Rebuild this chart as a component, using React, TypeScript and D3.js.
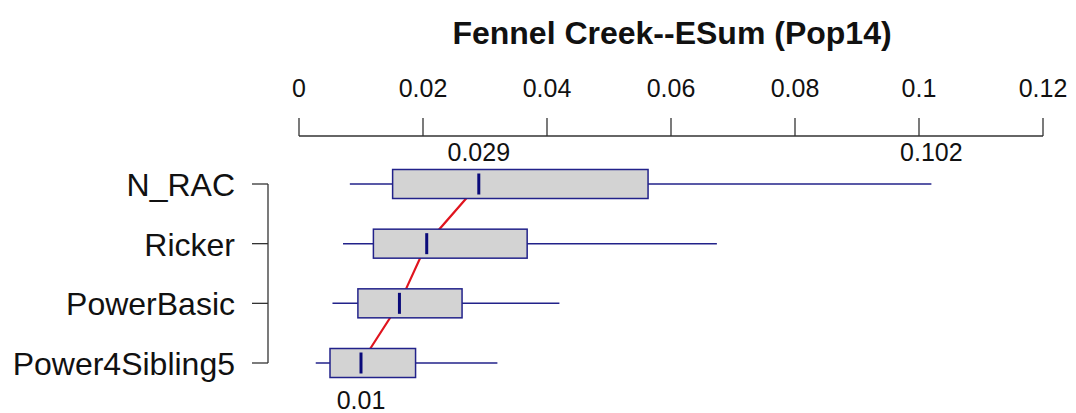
import React from "react";
import * as d3 from "d3";

const title = "Fennel Creek--ESum (Pop14)";
const categories = ["N_RAC", "Ricker", "PowerBasic", "Power4Sibling5"];
const whiskerLow = [0.0082, 0.0071, 0.0054, 0.0027];
const q1 = [0.0151, 0.012, 0.0095, 0.005];
const median = [0.029, 0.0206, 0.0162, 0.01];
const q3 = [0.0563, 0.0368, 0.0263, 0.0188];
const whiskerHigh = [0.102, 0.0674, 0.042, 0.032];
const tickValues = [0, 0.02, 0.04, 0.06, 0.08, 0.1, 0.12];
const tickLabels = ["0", "0.02", "0.04", "0.06", "0.08", "0.1", "0.12"];

const W = 1076;
const H = 413;

export default function App() {
  const x = d3.scaleLinear().domain([0, 0.12]).range([299, 1043]);
  const y = d3.scalePoint<string>().domain(categories).range([184, 363]);
  const boxH = 29;
  const medH = 21;
  const axisY = 136;
  const font = "'Liberation Sans', Arial, sans-serif";
  const navy = "#22228a";
  const medColor = "#0a0a7a";

  const medLine = d3
    .line<number>()
    .x((_, i) => x(median[i]))
    .y((_, i) => y(categories[i]) as number);

  const lastIdx = categories.length - 1;

  return (
    <svg
      width={W}
      height={H}
      style={{ position: "absolute", left: 0, top: 0, background: "#fff" }}
      fontFamily={font}
    >
      <rect x={0} y={0} width={W} height={H} fill="#fff" />
      <text x={672} y={44} textAnchor="middle" fontWeight="bold" fontSize={32} fill="#111">
        {title}
      </text>

      {/* top axis */}
      <line x1={x(0)} x2={x(0.12)} y1={axisY} y2={axisY} stroke="#333" strokeWidth={1.3} />
      {tickValues.map((t, i) => (
        <g key={t}>
          <line x1={x(t)} x2={x(t)} y1={axisY} y2={axisY - 18} stroke="#333" strokeWidth={1.3} />
          <text x={x(t)} y={97} textAnchor="middle" fontSize={25} fill="#111">
            {tickLabels[i]}
          </text>
        </g>
      ))}

      {/* annotations */}
      <text x={x(median[0])} y={161} textAnchor="middle" fontSize={25} fill="#111">
        {String(median[0])}
      </text>
      <text x={x(whiskerHigh[0])} y={161} textAnchor="middle" fontSize={25} fill="#111">
        {String(whiskerHigh[0])}
      </text>
      <text x={x(median[lastIdx])} y={409} textAnchor="middle" fontSize={25} fill="#111">
        {String(median[lastIdx])}
      </text>

      {/* left bracket axis */}
      <line
        x1={268}
        x2={268}
        y1={y(categories[0]) as number}
        y2={y(categories[lastIdx]) as number}
        stroke="#333"
        strokeWidth={1.3}
      />
      {categories.map((c) => (
        <g key={c}>
          <line x1={252} x2={268} y1={y(c)} y2={y(c)} stroke="#333" strokeWidth={1.3} />
          <text x={235} y={(y(c) as number) + 12} textAnchor="end" fontSize={32} fill="#111">
            {c}
          </text>
        </g>
      ))}

      {/* whiskers */}
      {categories.map((c, i) => (
        <line
          key={"w" + c}
          x1={x(whiskerLow[i])}
          x2={x(whiskerHigh[i])}
          y1={y(c)}
          y2={y(c)}
          stroke={navy}
          strokeWidth={1.5}
        />
      ))}

      {/* median connector */}
      <path d={medLine(median) || ""} fill="none" stroke="#e0141e" strokeWidth={2.2} />

      {/* boxes */}
      {categories.map((c, i) => (
        <g key={"b" + c}>
          <rect
            x={x(q1[i])}
            y={(y(c) as number) - boxH / 2}
            width={x(q3[i]) - x(q1[i])}
            height={boxH}
            fill="#d3d3d3"
            stroke={navy}
            strokeWidth={1.5}
          />
          <line
            x1={x(median[i])}
            x2={x(median[i])}
            y1={(y(c) as number) - medH / 2}
            y2={(y(c) as number) + medH / 2}
            stroke={medColor}
            strokeWidth={3}
          />
        </g>
      ))}
    </svg>
  );
}
